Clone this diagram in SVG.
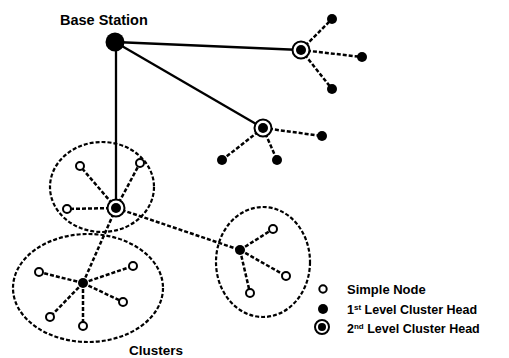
<svg xmlns="http://www.w3.org/2000/svg" width="509" height="358" viewBox="0 0 509 358">
<defs>
<style>
.solid{stroke:#000;stroke-width:2.3;fill:none}
.dash{stroke:#000;stroke-width:2.5;stroke-dasharray:4 2;fill:none}
.ell{stroke:#000;stroke-width:2.2;stroke-dasharray:4 2;fill:none}
.simple{fill:#fff;stroke:#000;stroke-width:2}
.ch1{fill:#000}
.ring{fill:#fff;stroke:#000;stroke-width:2}
text{font-family:"Liberation Sans",Arial,sans-serif;font-weight:bold;fill:#000}
</style>
<g id="ch2sym"><circle class="ring" r="8.5"/><circle class="ch1" r="5"/></g>
</defs>
<rect width="509" height="358" fill="#fff"/>
<g id="connectors">
<line class="solid" x1="115" y1="42" x2="301" y2="50"/>
<line class="solid" x1="115" y1="42" x2="263" y2="128"/>
<line class="solid" x1="116" y1="42" x2="116" y2="208"/>
<line class="dash" x1="301" y1="50" x2="332" y2="19"/>
<line class="dash" x1="301" y1="50" x2="362" y2="57"/>
<line class="dash" x1="301" y1="50" x2="332" y2="89"/>
<line class="dash" x1="263" y1="128" x2="322" y2="136"/>
<line class="dash" x1="263" y1="128" x2="222" y2="160"/>
<line class="dash" x1="263" y1="128" x2="277" y2="160"/>
<line class="dash" x1="116" y1="208" x2="80" y2="166"/>
<line class="dash" x1="116" y1="208" x2="140" y2="163"/>
<line class="dash" x1="116" y1="208" x2="67" y2="209"/>
<line class="dash" x1="116" y1="208" x2="83" y2="283"/>
<line class="dash" x1="116" y1="208" x2="240" y2="250"/>
<line class="dash" x1="83" y1="283" x2="39" y2="272"/>
<line class="dash" x1="83" y1="283" x2="133" y2="266"/>
<line class="dash" x1="83" y1="283" x2="123" y2="302"/>
<line class="dash" x1="83" y1="283" x2="50" y2="317"/>
<line class="dash" x1="83" y1="283" x2="83" y2="326"/>
<line class="dash" x1="240" y1="250" x2="273" y2="229"/>
<line class="dash" x1="240" y1="250" x2="286" y2="276"/>
<line class="dash" x1="240" y1="250" x2="250" y2="293"/>
</g>
<g id="cluster-outlines">
<ellipse class="ell" cx="102" cy="187" rx="52" ry="45"/>
<ellipse class="ell" cx="88" cy="288" rx="75" ry="54"/>
<ellipse class="ell" cx="263" cy="262" rx="47" ry="55"/>
</g>
<g id="base-station">
<circle cx="115" cy="42" r="9.5" fill="#000"/>
<text x="60" y="25" font-size="14.5">Base Station</text>
</g>
<g id="upper-ch2"><use href="#ch2sym" x="301" y="50"/>
<circle class="ch1" cx="332" cy="19" r="5"/><circle class="ch1" cx="362" cy="57" r="5"/><circle class="ch1" cx="332" cy="89" r="5"/></g>
<g id="lower-ch2"><use href="#ch2sym" x="263" y="128"/>
<circle class="ch1" cx="322" cy="136" r="5"/><circle class="ch1" cx="222" cy="160" r="5"/><circle class="ch1" cx="277" cy="160" r="5"/></g>
<g id="cluster1">
<use href="#ch2sym" x="116" y="208"/>
<circle class="simple" cx="80" cy="166" r="4"/><circle class="simple" cx="140" cy="163" r="4"/><circle class="simple" cx="67" cy="209" r="4"/>
</g>
<g id="cluster2">
<circle class="ch1" cx="83" cy="283" r="5"/>
<circle class="simple" cx="39" cy="272" r="4"/><circle class="simple" cx="133" cy="266" r="4"/><circle class="simple" cx="123" cy="302" r="4"/><circle class="simple" cx="50" cy="317" r="4"/><circle class="simple" cx="83" cy="326" r="4"/>
</g>
<g id="cluster3">
<circle class="ch1" cx="240" cy="250" r="5"/>
<circle class="simple" cx="273" cy="229" r="4"/><circle class="simple" cx="286" cy="276" r="4"/><circle class="simple" cx="250" cy="293" r="4"/>
</g>
<g id="clusters-label"><text x="129" y="355" font-size="13.5">Clusters</text></g>
<g id="legend">
<circle class="simple" cx="323" cy="289" r="3.7"/>
<text x="347" y="294" font-size="13">Simple Node</text>
<circle class="ch1" cx="323" cy="309" r="5"/>
<text x="347" y="314" font-size="12.5">1<tspan font-size="8" dy="-4">st</tspan><tspan dy="4"> Level Cluster Head</tspan></text>
<circle class="ring" cx="322" cy="327" r="7"/><circle class="ch1" cx="322" cy="327" r="4"/>
<text x="347" y="333" font-size="12.5">2<tspan font-size="8" dy="-4">nd</tspan><tspan dy="4"> Level Cluster Head</tspan></text>
</g>
</svg>
